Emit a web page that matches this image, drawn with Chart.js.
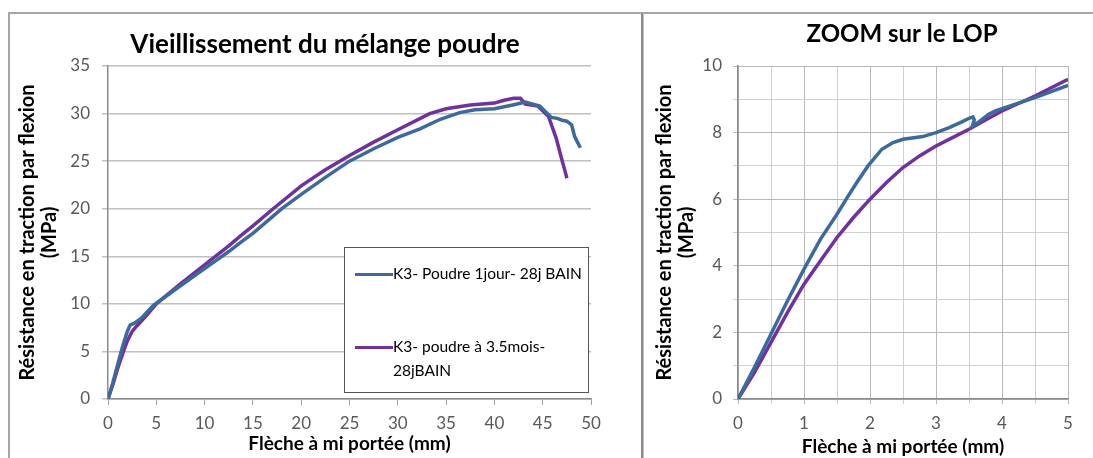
<!DOCTYPE html>
<html><head><meta charset="utf-8">
<script src="https://cdn.jsdelivr.net/npm/chart.js@4"></script>
<style>
html,body{margin:0;padding:0;background:#fff;overflow:hidden;width:1093px;height:458px;}
#lp{position:absolute;left:8px;top:12px;width:631px;height:470px;border-top:2px solid #a6a6a6;border-left:2px solid #a6a6a6;border-right:3px solid #8c8c8c;}
#rp{position:absolute;left:643px;top:12px;width:600px;height:470px;border-top:2px solid #a6a6a6;border-left:1px solid #c0c0c0;}
#c1{position:absolute;left:10px;top:14px;}
#c2{position:absolute;left:646px;top:14px;}
#legend{position:absolute;left:344px;top:247px;width:243px;height:144px;border:1.5px solid #555;background:#fff;font-family:Lato,sans-serif;font-size:15.5px;color:#000;}
.li{position:absolute;left:10px;}
.ll{position:absolute;left:0;width:38px;height:3px;}
.lt{position:absolute;left:38px;width:200px;line-height:24px;white-space:normal;}
</style>
</head><body>
<div id="lp"></div><div id="rp"></div>
<canvas id="c1" width="630" height="444"></canvas>
<canvas id="c2" width="512" height="444"></canvas>
<div id="legend"></div>
<script>
// ---- data ----
const seriesNames = ['K3- Poudre 1jour- 28j BAIN', 'K3- poudre à 3.5mois-28jBAIN'];
const seriesColors = ['#3b6a9e', '#7030a0'];

// main chart: K3- Poudre 1jour
const mainBlueX = [0,0.5,1,1.5,2,2.3,2.7,3.2,3.6,4.7,6,7.5,10,12.5,13.66,15,18,20,22.5,25,27.5,30,32.3,34.4,36.4,38,40,41.9,43.2,44.7,45.9,46.5,47,47.5,48,48.3,48.6,48.9];
const mainBlueY = [0,1.7,3.6,5.5,7.1,7.8,7.95,8.3,8.65,9.85,10.8,11.9,13.7,15.5,16.4,17.4,20.0,21.5,23.3,25.0,26.3,27.5,28.4,29.4,30.1,30.4,30.5,30.9,31.2,30.8,29.6,29.5,29.3,29.2,28.8,27.6,27.0,26.4];
// main chart: K3- poudre à 3.5mois
const mainPurpleX = [0,0.5,1,1.5,2,2.5,3,4,5,7.5,10,12.5,13.66,15,17.1,20,22.5,24,25,27.5,30,33.3,35,37.5,40,41,42,42.7,43.2,44.5,45.6,46.4,47.0,47.3,47.5];
const mainPurpleY = [0,1.5,3.2,4.7,6.1,7.1,7.7,8.8,10.0,12.1,14.1,16.1,17.1,18.2,20.0,22.4,24.1,25.0,25.6,27.0,28.3,30.0,30.5,30.9,31.1,31.4,31.6,31.6,31.0,30.8,29.7,27.4,25.1,24.0,23.2];

// zoom chart: K3- Poudre 1jour
const zoomBlueX = [0,0.25,0.5,0.75,1,1.25,1.5,1.64,1.8,1.97,2.18,2.35,2.5,2.8,3.0,3.2,3.4,3.5,3.56,3.58,3.55,3.65,3.8,3.9,4.0,4.5,5.0];
const zoomBlueY = [0,0.95,1.95,2.95,3.9,4.8,5.55,6.0,6.5,7.0,7.5,7.7,7.8,7.88,8.0,8.15,8.33,8.43,8.47,8.38,8.2,8.32,8.55,8.65,8.72,9.05,9.42];
// zoom chart: K3- poudre à 3.5mois
const zoomPurpleX = [0,0.25,0.5,0.75,1,1.25,1.5,1.75,2,2.25,2.5,2.75,3,3.25,3.5,3.75,4,4.5,5];
const zoomPurpleY = [0,0.8,1.7,2.6,3.45,4.15,4.85,5.45,6.0,6.5,6.95,7.3,7.6,7.85,8.1,8.38,8.65,9.1,9.6];

// tick values
const mainXTicks = [0,5,10,15,20,25,30,35,40,45,50];
const mainYTicks = [0,5,10,15,20,25,30,35];
const zoomXTicks = [0,0.5,1,1.5,2,2.5,3,3.5,4,4.5,5];
const zoomYTicks = [0,1,2,3,4,5,6,7,8,9,10];

const titles = ['Vieillissement du mélange poudre', 'ZOOM sur le LOP'];
const xTitle = 'Flèche à mi portée (mm)';
const yTitle = ['Résistance en traction par flexion', '(MPa)'];

// ---- build ----
const pts = (xs, ys) => xs.map((x, i) => ({x: x, y: ys[i]}));
const FONT = 'Lato';
function ds(i, xs, ys) {
  return {label: seriesNames[i], data: pts(xs, ys), showLine: true, borderColor: seriesColors[i],
    backgroundColor: seriesColors[i], borderWidth: 3.5, pointRadius: 0, tension: 0, fill: false};
}
function setTicks(arr) { return function(s){ s.ticks = arr.map(v => ({value: v})); }; }
// empty spacer axis on the right (keeps the title centred on the whole canvas)
function spacer(w) {
  return {type: 'linear', position: 'right', display: true, afterFit(s){ s.width = w; },
    grid: {display: false, drawTicks: false}, border: {display: false}, ticks: {display: false}};
}

const chart1 = new Chart(document.getElementById('c1'), {
  type: 'scatter',
  data: {datasets: [ds(0, mainBlueX, mainBlueY), ds(1, mainPurpleX, mainPurpleY)]},
  options: {
    responsive: false, animation: false,
    layout: {padding: 0},
    plugins: {
      legend: {display: false}, tooltip: {enabled: false},
      title: {display: true, text: titles[0], color: '#000',
        font: {family: FONT, size: 26, weight: 'bold', lineHeight: '30px'}, padding: {top: 16, bottom: 6}}
    },
    scales: {
      x: {type: 'linear', min: 0, max: 50,
        afterBuildTicks: setTicks(mainXTicks), afterFit(s){ s.height = 59; },
        grid: {drawOnChartArea: false, drawTicks: true, tickLength: 6, color: '#a0a0a0', lineWidth: 1},
        border: {display: true, color: '#8a8a8a', width: 1.5},
        ticks: {padding: 8, color: '#595959', font: {family: FONT, size: 17}, maxRotation: 0, autoSkip: false},
        title: {display: true, text: xTitle, color: '#000', font: {family: FONT, size: 19, weight: 'bold', lineHeight: '22px'}, padding: {top: 0, bottom: 3}}
      },
      y: {type: 'linear', min: 0, max: 35,
        afterBuildTicks: setTicks(mainYTicks), afterFit(s){ s.width = 98; },
        grid: {drawTicks: true, tickLength: 6, color: '#c0c0c0', lineWidth: 1.5},
        border: {display: true, color: '#8a8a8a', width: 1.5},
        ticks: {padding: 12, color: '#595959', font: {family: FONT, size: 17}},
        title: {display: true, text: yTitle, color: '#000', font: {family: FONT, size: 20, weight: 'bold', lineHeight: '22px'}, padding: {top: 7, bottom: 0}}
      },
      yr: spacer(49)
    }
  }
});

const chart2 = new Chart(document.getElementById('c2'), {
  type: 'scatter',
  data: {datasets: [ds(0, zoomBlueX, zoomBlueY), ds(1, zoomPurpleX, zoomPurpleY)]},
  options: {
    responsive: false, animation: false,
    layout: {padding: 0},
    plugins: {
      legend: {display: false}, tooltip: {enabled: false},
      title: {display: true, text: titles[1], color: '#000',
        font: {family: FONT, size: 24, weight: 'bold', lineHeight: '28px'}, padding: {top: 6, bottom: 18}}
    },
    scales: {
      x: {type: 'linear', min: 0, max: 5,
        afterBuildTicks: setTicks(zoomXTicks), afterFit(s){ s.height = 59; },
        grid: {drawTicks: true, tickLength: 5, color: ctx => (ctx.tick && Number.isInteger(ctx.tick.value)) ? '#b8b8b8' : '#d0d0d0', lineWidth: 1},
        border: {display: true, color: '#8a8a8a', width: 1.5},
        ticks: {padding: 9, color: '#595959', font: {family: FONT, size: 17}, maxRotation: 0, autoSkip: false,
          callback: v => Number.isInteger(v) ? String(v) : ''},
        title: {display: true, text: xTitle, color: '#000', font: {family: FONT, size: 19, weight: 'bold', lineHeight: '22px'}, padding: {top: 0, bottom: 0}}
      },
      y: {type: 'linear', min: 0, max: 10,
        afterBuildTicks: setTicks(zoomYTicks), afterFit(s){ s.width = 92; },
        grid: {drawTicks: true, tickLength: 5, color: ctx => (ctx.tick && ctx.tick.value % 2 === 0) ? '#b8b8b8' : '#d0d0d0', lineWidth: 1},
        border: {display: true, color: '#8a8a8a', width: 1.5},
        ticks: {padding: 11, color: '#595959', font: {family: FONT, size: 17}, autoSkip: false,
          callback: v => (v % 2 === 0) ? String(v) : ''},
        title: {display: true, text: yTitle, color: '#000', font: {family: FONT, size: 20, weight: 'bold', lineHeight: '22px'}, padding: {top: 8, bottom: 0}}
      },
      yr: spacer(90)
    }
  }
});

// HTML legend built from chart datasets
(function(){
  const lg = document.getElementById('legend');
  const tops = [13, 86];
  chart1.data.datasets.forEach((d, i) => {
    const item = document.createElement('div');
    item.className = 'li'; item.style.top = tops[i] + 'px';
    const line = document.createElement('div');
    line.className = 'll'; line.style.background = d.borderColor; line.style.top = '12px';
    const txt = document.createElement('div');
    txt.className = 'lt'; txt.textContent = d.label;
    item.appendChild(line); item.appendChild(txt);
    lg.appendChild(item);
  });
})();
</script>
</body></html>
